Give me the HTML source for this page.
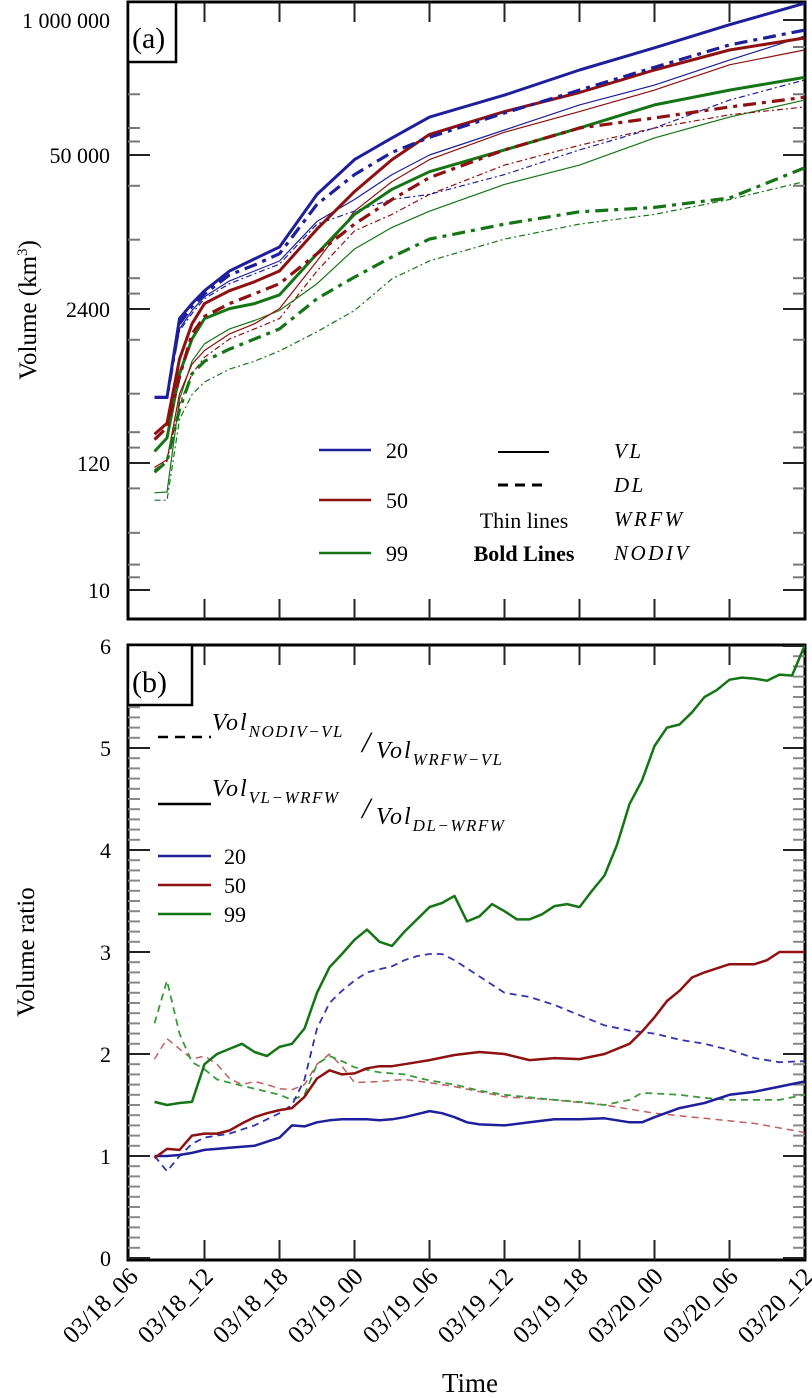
<!DOCTYPE html>
<html><head><meta charset="utf-8"><style>
html,body{margin:0;padding:0;background:#fff;}
svg{display:block;font-family:"Liberation Serif",serif;}
</style></head><body>
<svg id="chart" width="812" height="1398" viewBox="0 0 812 1398" xmlns="http://www.w3.org/2000/svg">
<g id="gA"></g>
<g id="gB"></g>
</svg>
<script>
// ---------- Panel (a) data ----------
const hoursA = [2,3,4,5,6,8,10,12,15,18,21,24,30,36,42,48,54];
const aTickVals = [10,120,2400,50000,1000000];
const aTickLabels = ["10","120","2400","50 000","1 000 000"];
const b20NodivVL = [430,430,1990,2670,3440,5080,6440,8150,23000,45700,73000,116000,189000,330000,540000,900000,1450000];
const b20NodivDL = [430,430,1800,2520,3230,4700,5720,7140,18900,34000,53000,74000,127000,211000,350000,575000,800000];
const b20WrfwVL  = [430,430,1630,2330,3060,4180,5080,6180,13500,20800,34000,50000,87000,152000,236000,411000,700000];
const b20WrfwDL  = [430,430,1570,2200,2940,3950,4800,5820,12800,16500,20800,23000,34000,56000,91000,169000,264000];
const r50NodivVL = [210,260,906,1800,2670,3440,4100,5080,11600,24300,45700,79000,131000,200000,330000,514000,670000];
const r50NodivDL = [189,240,640,1480,2080,2670,3240,3950,7140,12800,20800,32000,56000,91000,114000,145000,180000];
const r50WrfwVL  = [110,128,460,820,1070,1480,1800,2420,6180,16500,29600,45700,83000,131000,211000,370000,514000];
const r50WrfwDL  = [105,124,375,680,940,1340,1630,1990,5080,11200,15500,23000,41000,62000,91000,122000,145000];
const g99NodivVL = [150,195,680,1340,1990,2420,2670,3170,7140,15500,25400,36000,56000,91000,152000,211000,280000];
const g99NodivDL = [100,124,340,680,870,1100,1340,1630,2940,4500,6700,9530,12800,16300,17800,21400,38800];
const g99WrfwVL  = [67,68,414,870,1220,1630,1920,2330,3950,7830,12000,16500,28000,41000,73000,116000,169000];
const g99WrfwDL  = [58,58,280,455,580,745,870,1060,1540,2330,4350,6200,9530,12800,15500,20800,29600];

// ---------- Panel (b) data ----------
const bTickVals = [0,1,2,3,4,5,6];
const hoursG = [2,3,4,5,6,7,8,9,10,11,12,13,14,15,16,17,18,19,20,21,22,23,24,25,26,27,28,29,30,31,32,33,34,35,36,37,38,39,40,41,42,43,44,45,46,47,48,49,50,51,52,53,54];
const ratio99Solid = [1.53,1.5,1.52,1.53,1.9,2.0,2.05,2.1,2.02,1.98,2.07,2.1,2.25,2.6,2.85,2.98,3.12,3.22,3.1,3.06,3.2,3.32,3.44,3.48,3.55,3.3,3.35,3.47,3.4,3.32,3.32,3.37,3.45,3.47,3.44,3.6,3.75,4.05,4.45,4.68,5.02,5.2,5.23,5.35,5.5,5.57,5.67,5.69,5.68,5.66,5.72,5.71,6.0];
const hoursBlueS = [2,3,4,5,6,7,8,9,10,11,12,13,14,15,16,17,18,19,20,21,22,23,24,25,26,27,28,30,32,34,36,38,40,41,42,44,46,48,50,52,54];
const ratio20Solid = [1.0,1.0,1.01,1.03,1.06,1.07,1.08,1.09,1.1,1.14,1.18,1.3,1.29,1.33,1.35,1.36,1.36,1.36,1.35,1.36,1.38,1.41,1.44,1.42,1.38,1.33,1.31,1.3,1.33,1.36,1.36,1.37,1.33,1.33,1.38,1.47,1.52,1.6,1.63,1.68,1.73];
const hoursRedS = [2,3,4,5,6,7,8,9,10,11,12,13,14,15,16,17,18,19,20,21,22,23,24,26,28,30,32,34,36,38,40,41,42,43,44,45,46,48,50,51,52,54];
const ratio50Solid = [0.98,1.07,1.06,1.2,1.22,1.22,1.25,1.32,1.38,1.42,1.45,1.47,1.58,1.76,1.84,1.8,1.81,1.86,1.88,1.88,1.9,1.92,1.94,1.99,2.02,2.0,1.94,1.96,1.95,2.0,2.1,2.22,2.36,2.52,2.62,2.75,2.8,2.88,2.88,2.92,3.0,3.0];
const hoursBlueD = [2,3,4,5,6,8,10,12,13,14,15,16,17,18,19,20,21,22,23,24,25,26,28,30,32,34,36,38,40,42,44,46,48,50,52,54];
const ratio20Dash = [1.0,0.85,1.0,1.12,1.18,1.22,1.3,1.42,1.5,1.75,2.25,2.5,2.62,2.72,2.8,2.83,2.86,2.92,2.96,2.98,2.98,2.92,2.76,2.6,2.56,2.48,2.38,2.28,2.23,2.2,2.14,2.1,2.04,1.96,1.92,1.93];
const hoursRedD = [2,3,4,5,6,7,8,9,10,11,12,13,14,15,16,17,18,20,22,24,26,28,30,34,38,42,46,50,54];
const ratio50Dash = [1.95,2.15,2.05,1.95,1.98,1.9,1.76,1.7,1.73,1.7,1.66,1.65,1.7,1.9,2.0,1.88,1.72,1.73,1.75,1.72,1.68,1.63,1.58,1.55,1.5,1.42,1.37,1.32,1.23];
const hoursGreenD = [2,3,4,5,6,7,8,10,12,13,14,15,16,17,18,20,22,24,26,28,30,34,36,38,40,41,44,46,48,50,52,54];
const ratio99Dash = [2.3,2.72,2.2,1.92,1.85,1.75,1.72,1.66,1.6,1.55,1.6,1.9,1.98,1.93,1.87,1.82,1.8,1.74,1.7,1.64,1.6,1.55,1.53,1.5,1.55,1.62,1.6,1.57,1.55,1.55,1.55,1.6];
const xTickLabels = ["03/18_06","03/18_12","03/18_18","03/19_00","03/19_06","03/19_12","03/19_18","03/20_00","03/20_06","03/20_12"];

// ---------- geometry ----------
const NS = "http://www.w3.org/2000/svg";
const X0 = 129.5, PX_PER_H = 12.5, XR = 805;
const A_TOP = 2, A_BOT = 619, B_TOP = 645, B_BOT = 1260;
const aTickYs = [590,463,309,155,20];
function xScale(h){ return X0 + h*PX_PER_H; }
function yA(v){
  const L = Math.log10(v);
  const ls = aTickVals.map(Math.log10);
  let i = 0;
  while (i < ls.length-2 && L > ls[i+1]) i++;
  const t = (L - ls[i])/(ls[i+1]-ls[i]);
  return aTickYs[i] + t*(aTickYs[i+1]-aTickYs[i]);
}
function yB(v){ return 1258 - v*102; }
function mk(tag, attrs, parent){
  const e = document.createElementNS(NS, tag);
  for (const k in attrs) e.setAttribute(k, attrs[k]);
  parent.appendChild(e); return e;
}
const C_BLUE="#1f1f9c", C_RED="#8e1010", C_GREEN="#157515";
const gA = document.getElementById('gA'), gB = document.getElementById('gB');

function drawLine(parent, hs, vals, yf, color, w, dash, name){
  const d = hs.map((h,i)=>(i?'L':'M')+xScale(h).toFixed(1)+','+yf(vals[i]).toFixed(1)).join(' ');
  const p = mk('path',{d:d,fill:'none',stroke:color,'stroke-width':w,'stroke-linejoin':'round','stroke-dasharray':dash||'none'},parent);
  
  
}
function frame(parent, top, bot, name){
  const r = mk('rect',{x:128,y:top,width:XR-128,height:bot-top,fill:'none',stroke:'#000','stroke-width':3},parent);
  
  
  for (let k=1;k<9;k++){
    const x = xScale(k*6);
    mk('line',{x1:x,y1:top,x2:x,y2:top+20,stroke:'#222','stroke-width':2},parent);
    mk('line',{x1:x,y1:bot,x2:x,y2:bot-20,stroke:'#222','stroke-width':2},parent);
  }
}
function text(parent, x, y, s, attrs, name){
  const t = mk('text',Object.assign({x:x,y:y},attrs),parent);
  t.textContent = s;
  
  
  return t;
}

// ---------- Panel A ----------
frame(gA, A_TOP, A_BOT, 'panel-a-frame');
aTickVals.forEach((v,i)=>{
  const y = yA(v);
  mk('line',{x1:128,y1:y,x2:150,y2:y,stroke:'#222','stroke-width':2},gA);
  mk('line',{x1:XR,y1:y,x2:XR-22,y2:y,stroke:'#222','stroke-width':2},gA);
  text(gA, 110, y+8, aTickLabels[i], {'text-anchor':'end','font-size':22}, 'y-tick-label-a');
  if (i < aTickVals.length-1){
    [0.1,0.2,0.45,0.8].forEach(f=>{
      const yy = aTickYs[i] + f*(aTickYs[i+1]-aTickYs[i]);
      mk('line',{x1:128,y1:yy,x2:140,y2:yy,stroke:'#777','stroke-width':2},gA);
      mk('line',{x1:XR,y1:yy,x2:XR-12,y2:yy,stroke:'#777','stroke-width':2},gA);
    });
  }
});
const tA = text(gA, 0, 0, 'Volume (km', {'font-size':25,transform:'translate(36,310) rotate(-90)','text-anchor':'middle'}, 'y-axis-title-a');
const sup = mk('tspan',{'font-size':15,dy:-9},tA); sup.textContent='3';
const cl = mk('tspan',{dy:9},tA); cl.textContent=')';

const BD='13,6,4,6', TD='6,3,2,3';
drawLine(gA,hoursA,g99WrfwDL,yA,C_GREEN,1.2,TD,'line-99-wrfw-dl');
drawLine(gA,hoursA,g99WrfwVL,yA,C_GREEN,1.2,null,'line-99-wrfw-vl');
drawLine(gA,hoursA,r50WrfwDL,yA,C_RED,1.2,TD,'line-50-wrfw-dl');
drawLine(gA,hoursA,r50WrfwVL,yA,C_RED,1.2,null,'line-50-wrfw-vl');
drawLine(gA,hoursA,b20WrfwDL,yA,C_BLUE,1.2,TD,'line-20-wrfw-dl');
drawLine(gA,hoursA,b20WrfwVL,yA,C_BLUE,1.2,null,'line-20-wrfw-vl');
drawLine(gA,hoursA,g99NodivDL,yA,C_GREEN,3.2,BD,'line-99-nodiv-dl');
drawLine(gA,hoursA,g99NodivVL,yA,C_GREEN,3,null,'line-99-nodiv-vl');
drawLine(gA,hoursA,r50NodivDL,yA,C_RED,3.2,BD,'line-50-nodiv-dl');
drawLine(gA,hoursA,r50NodivVL,yA,C_RED,3,null,'line-50-nodiv-vl');
drawLine(gA,hoursA,b20NodivDL,yA,C_BLUE,3.2,BD,'line-20-nodiv-dl');
drawLine(gA,hoursA,b20NodivVL,yA,C_BLUE,3,null,'line-20-nodiv-vl');

mk('rect',{x:128,y:2,width:48,height:60,fill:'#fff',stroke:'#000','stroke-width':2.5},gA);
text(gA,132,48,'(a)',{'font-size':30},'panel-a-label');

[[C_BLUE,'20',450],[C_RED,'50',500],[C_GREEN,'99',553]].forEach(([c,l,y])=>{
  mk('line',{x1:319,y1:y,x2:371,y2:y,stroke:c,'stroke-width':2.5},gA);
  text(gA,386,y+8,l,{'font-size':22},'legend-a-'+l);
});
mk('line',{x1:498,y1:452,x2:549,y2:452,stroke:'#000','stroke-width':2},gA);
mk('line',{x1:498,y1:485,x2:549,y2:485,stroke:'#000','stroke-width':3,'stroke-dasharray':'10,7'},gA);
text(gA,524,528,'Thin lines',{'font-size':22,'text-anchor':'middle'},'legend-thin-lines');
text(gA,524,561,'Bold Lines',{'font-size':22,'text-anchor':'middle','font-weight':'bold'},'legend-bold-lines');
[['VL',458],['DL',492],['WRFW',526],['NODIV',560]].forEach(([s,y])=>{
  text(gA,614,y,s,{'font-size':21,'font-style':'italic','letter-spacing':'2.5'},'legend-'+s.toLowerCase());
});

// ---------- Panel B ----------
frame(gB, B_TOP, B_BOT, 'panel-b-frame');
for (let k=0;k<=60;k++){
  const y = yB(k/10);
  const major = k%10===0;
  const len = major?22:12;
  mk('line',{x1:128,y1:y,x2:128+len,y2:y,stroke:major?'#222':'#888','stroke-width':2},gB);
  mk('line',{x1:XR,y1:y,x2:XR-len,y2:y,stroke:major?'#222':'#888','stroke-width':2},gB);
}
bTickVals.forEach(v=>{
  text(gB,111,yB(v)+8,String(v),{'text-anchor':'end','font-size':22},'y-tick-label-b');
});
text(gB,0,0,'Volume ratio',{'font-size':25,transform:'translate(34,952) rotate(-90)','text-anchor':'middle'},'y-axis-title-b');

const DD='7,5';
drawLine(gB,hoursRedD,ratio50Dash,yB,'#c06060',1.5,DD,'ratio-50-dashed');
drawLine(gB,hoursGreenD,ratio99Dash,yB,'#3a9a3a',1.8,DD,'ratio-99-dashed');
drawLine(gB,hoursBlueD,ratio20Dash,yB,'#3333b0',1.8,DD,'ratio-20-dashed');
drawLine(gB,hoursBlueS,ratio20Solid,yB,C_BLUE,2.5,null,'ratio-20-solid');
drawLine(gB,hoursRedS,ratio50Solid,yB,C_RED,2.5,null,'ratio-50-solid');
drawLine(gB,hoursG,ratio99Solid,yB,C_GREEN,2.5,null,'ratio-99-solid');

mk('rect',{x:128,y:645,width:64,height:60,fill:'#fff',stroke:'#000','stroke-width':2.5},gB);
text(gB,132,692,'(b)',{'font-size':30},'panel-b-label');

mk('line',{x1:158,y1:737,x2:211,y2:737,stroke:'#000','stroke-width':2.5,'stroke-dasharray':'10,7'},gB);
mk('line',{x1:158,y1:804,x2:211,y2:804,stroke:'#000','stroke-width':2.5},gB);
function fracLegend(y1, sub1, sub2, name){
  const t1 = text(gB,212,y1,'Vol',{'font-size':24,'font-style':'italic','letter-spacing':'2'},name+'-num');
  const s1 = mk('tspan',{'font-size':17,dy:7,'letter-spacing':'1.5'},t1); s1.textContent=sub1;
  text(gB,362,y1+22,'/',{'font-size':30,'font-style':'italic'},name+'-slash');
  const t2 = text(gB,376,y1+28,'Vol',{'font-size':24,'font-style':'italic','letter-spacing':'2'},name+'-den');
  const s2 = mk('tspan',{'font-size':17,dy:7,'letter-spacing':'1.5'},t2); s2.textContent=sub2;
}
fracLegend(730,'NODIV−VL','WRFW−VL','legend-dashed');
fracLegend(796,'VL−WRFW','DL−WRFW','legend-solid');
[[C_BLUE,'20',856],[C_RED,'50',885],[C_GREEN,'99',914]].forEach(([c,l,y])=>{
  mk('line',{x1:158,y1:y,x2:211,y2:y,stroke:c,'stroke-width':2.5},gB);
  text(gB,224,y+8,l,{'font-size':22},'legend-b-'+l);
});

xTickLabels.forEach((s,i)=>{
  const x = xScale(i*6);
  text(gB,0,0,s,{'font-size':25,'text-anchor':'end',transform:`translate(${x+10},${1278}) rotate(-45)`},'x-tick-label');
});
text(gB,470,1392,'Time',{'font-size':27,'text-anchor':'middle'},'x-axis-title');
</script>
</body></html>
